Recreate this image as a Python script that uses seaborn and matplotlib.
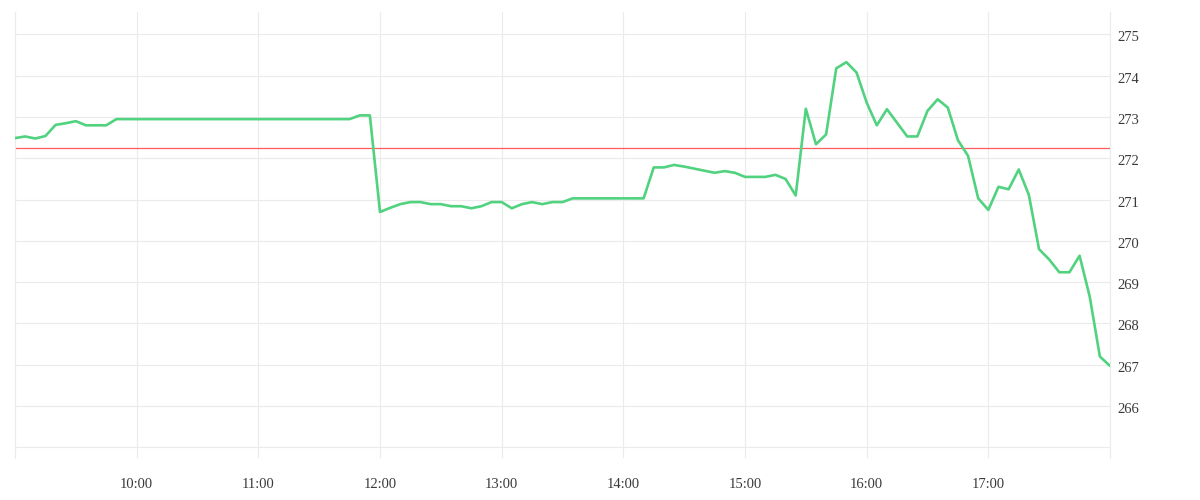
import matplotlib
matplotlib.use("Agg")
import matplotlib.pyplot as plt
import matplotlib.transforms as mtransforms
import seaborn as sns
import numpy as np
import pandas as pd

# price every 5 minutes, 09:00 .. 18:00
prices = [
    272.49, 272.53, 272.48, 272.54, 272.81, 272.85, 272.90, 272.80, 272.80, 272.80,
    272.95, 272.95, 272.95, 272.95, 272.95, 272.95, 272.95, 272.95, 272.95, 272.95,
    272.95, 272.95, 272.95, 272.95, 272.95, 272.95, 272.95, 272.95, 272.95, 272.95,
    272.95, 272.95, 272.95, 272.95, 273.04, 273.04, 270.70, 270.80, 270.89, 270.94,
    270.94, 270.89, 270.89, 270.84, 270.84, 270.79, 270.84, 270.94, 270.94, 270.79,
    270.89, 270.94, 270.89, 270.94, 270.94, 271.03, 271.03, 271.03, 271.03, 271.03,
    271.03, 271.03, 271.03, 271.78, 271.78, 271.84, 271.80, 271.75, 271.70, 271.65,
    271.69, 271.65, 271.55, 271.55, 271.55, 271.60, 271.50, 271.10, 273.20, 272.34,
    272.58, 274.18, 274.33, 274.08, 273.35, 272.80, 273.19, 272.86, 272.53, 272.53,
    273.15, 273.43, 273.23, 272.44, 272.06, 271.03, 270.75, 271.31, 271.25, 271.73,
    271.11, 269.80, 269.55, 269.24, 269.24, 269.64, 268.65, 267.20, 266.97,
]
reference_price = 272.25
start_time = "2024-01-02 09:00"
end_time = "2024-01-02 18:00"
hour_labels = ["", "10:00", "11:00", "12:00", "13:00", "14:00", "15:00", "16:00", "17:00", ""]
price_ticks = list(range(265, 276))
price_labels = [""] + [str(v) for v in range(266, 276)]

times = pd.date_range(start_time, periods=len(prices), freq="5min")
df = pd.DataFrame({"time": times, "price": prices})

sns.set_style("white")
plt.rcParams["font.family"] = ["Liberation Serif", "DejaVu Serif"]

grid_col = "#ebebeb"
text_col = "#3a3a3a"
fig = plt.figure(figsize=(12, 5), dpi=100)
ax = fig.add_axes([15 / 1200, 42 / 500, 1095 / 1200, 446 / 500])

sns.lineplot(data=df, x="time", y="price", ax=ax, color="#50d27f", linewidth=1.9, zorder=3)
ax.axhline(reference_price, color="#ff5a5f", linewidth=0.9, zorder=2)

ax.set_xlim(pd.Timestamp(start_time), pd.Timestamp(end_time))
ax.set_ylim(264.74, 275.545)

hour_ticks = pd.date_range(start_time, end_time, freq="1h")
ax.set_xticks(hour_ticks)
ax.set_xticklabels(hour_labels)
ax.set_yticks(price_ticks)
ax.set_yticklabels(price_labels)

ax.yaxis.tick_right()
ax.grid(True, color=grid_col, linewidth=0.8)
ax.tick_params(axis="x", length=7.5, width=0.8, color=grid_col, pad=7,
               labelsize=10.5, labelcolor=text_col)
ax.tick_params(axis="y", length=0, pad=5, labelsize=10.5, labelcolor=text_col)
# y labels sit a touch below their gridlines in the reference
shift = mtransforms.ScaledTranslation(0, -2 / 100, fig.dpi_scale_trans)
for lbl in ax.get_yticklabels():
    lbl.set_transform(lbl.get_transform() + shift)

for side in ["top", "bottom"]:
    ax.spines[side].set_visible(False)
for side in ["left", "right"]:
    ax.spines[side].set_color(grid_col)
    ax.spines[side].set_linewidth(0.8)

ax.set_xlabel("")
ax.set_ylabel("")

fig.savefig("out.png", dpi=100)
